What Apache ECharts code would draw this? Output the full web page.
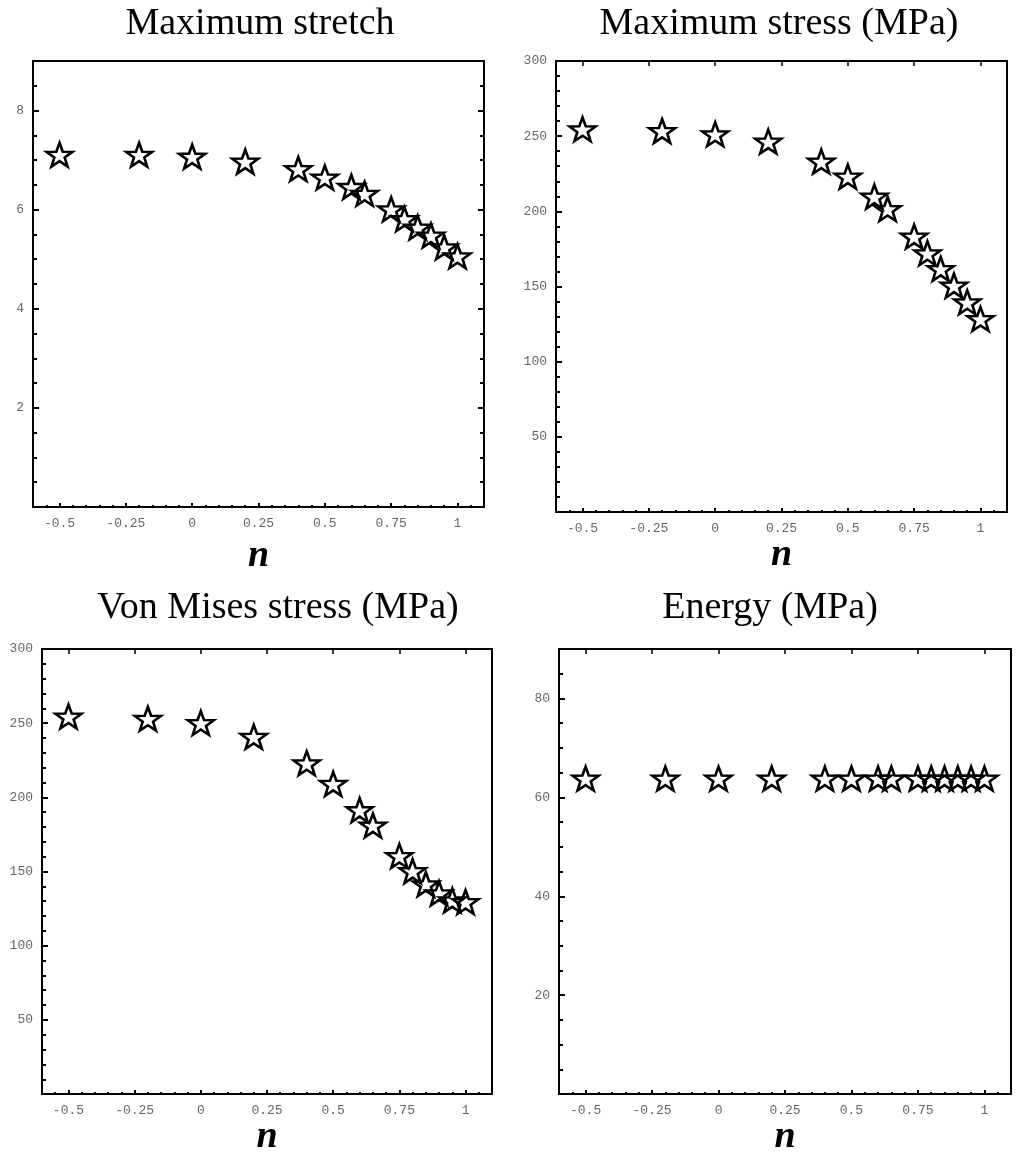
<!DOCTYPE html>
<html>
<head>
<meta charset="utf-8">
<script src="https://cdn.jsdelivr.net/npm/echarts@6/dist/echarts.min.js"></script>
<style>
html,body{margin:0;padding:0;background:#fff;}
#chart{width:1016px;height:1157px;}
</style>
</head>
<body>
<div id="chart"></div>
<script>
// ---- data ----
const nValues = [-0.5, -0.2, 0, 0.2, 0.4, 0.5, 0.6, 0.65, 0.75, 0.8, 0.85, 0.9, 0.95, 1];
const maxStretch = [7.11, 7.11, 7.07, 6.97, 6.82, 6.65, 6.46, 6.32, 6.01, 5.81, 5.64, 5.48, 5.24, 5.06];
const maxStress = [254.6, 253.5, 251.3, 246.4, 233.1, 223.1, 209.8, 201.6, 183.2, 172.1, 161.7, 150.6, 139.5, 128.4];
const vonMises = [254.5, 253, 250.1, 240.8, 223, 209.1, 191.4, 181.1, 160.5, 150.3, 141.5, 135.3, 130.6, 129.5];
const energy = [63.8, 63.8, 63.8, 63.8, 63.8, 63.8, 63.8, 63.8, 63.8, 63.8, 63.8, 63.8, 63.8, 63.8];

const titles = ['Maximum stretch', 'Maximum stress (MPa)', 'Von Mises stress (MPa)', 'Energy (MPa)'];
const xTickLabels = [-0.5, -0.25, 0, 0.25, 0.5, 0.75, 1];
const yTickLabels1 = [2, 4, 6, 8];
const yTickLabels2 = [50, 100, 150, 200, 250, 300];
const yTickLabels3 = [50, 100, 150, 200, 250, 300];
const yTickLabels4 = [20, 40, 60, 80];

// ---- layout / style ----
const panels = [
  {grid:{left:33, top:61, width:451, height:446}, ymax:9, yTicks:yTickLabels1, yMinor:0.5, data:maxStretch, topTicks:false, rightTicks:true, nameGap:30, title:{x:260, y:24}},
  {grid:{left:556, top:61, width:451, height:451}, ymax:300, yTicks:yTickLabels2, yMinor:10, data:maxStress, topTicks:true, rightTicks:false, nameGap:16, title:{x:779, y:24}},
  {grid:{left:42, top:649, width:450, height:450}, ymax:300, yTicks:yTickLabels3, yMinor:10, data:vonMises, topTicks:true, rightTicks:false, nameGap:23, title:{x:278, y:608}},
  {grid:{left:559, top:649, width:452, height:451}, ymax:90, yTicks:yTickLabels4, yMinor:5, data:energy, topTicks:true, rightTicks:false, nameGap:22, title:{x:770, y:608}}
];
const XMIN = -0.6, XMAX = 1.1;
const tickFont = {fontFamily:'Liberation Mono', fontSize:13, color:'#666'};
const lineStyle = {color:'#000', width:2};
const starPath = 'path://M50 0 L61.76 33.82 L97.55 34.55 L69.02 56.18 L79.39 90.45 L50 70 L20.61 90.45 L30.98 56.18 L2.45 34.55 L38.24 33.82 Z';

function range(a, b, step) {
  const out = [];
  const n = Math.round((b - a) / step);
  for (let i = 0; i <= n; i++) out.push(+(a + i * step).toFixed(6));
  return out;
}
const xMinorTicks = range(-0.6, 1.1, 0.05);

const grid = [], xAxis = [], yAxis = [], series = [], graphic = [];
panels.forEach((p, i) => {
  grid.push(Object.assign({containLabel:false}, p.grid));
  const gi = i;
  const xBase = {gridIndex:gi, type:'value', min:XMIN, max:XMAX, splitLine:{show:false}, axisPointer:{show:false}};
  // main bottom
  xAxis.push(Object.assign({}, xBase, {
    position:'bottom',
    axisLine:{show:true, onZero:false, lineStyle:lineStyle},
    axisTick:{show:true, inside:true, length:4, customValues:xTickLabels, lineStyle:{color:'#000', width:2}},
    axisLabel:{show:true, customValues:xTickLabels, margin:10, formatter:v => String(v), ...tickFont},
    name:'n', nameLocation:'middle', nameGap:p.nameGap,
    nameTextStyle:{fontFamily:'Liberation Serif', fontStyle:'italic', fontWeight:'bold', fontSize:38, color:'#000'}
  }));
  // minor bottom
  xAxis.push(Object.assign({}, xBase, {
    position:'bottom',
    axisLine:{show:false, onZero:false},
    axisTick:{show:true, inside:true, length:2, customValues:xMinorTicks, lineStyle:{color:'#000', width:2}},
    axisLabel:{show:false}
  }));
  // top
  xAxis.push(Object.assign({}, xBase, {
    position:'top',
    axisLine:{show:true, onZero:false, lineStyle:lineStyle},
    axisTick:{show:p.topTicks, inside:true, length:5, customValues:xTickLabels, lineStyle:{color:'#000', width:1.5}},
    axisLabel:{show:false}
  }));
  const yMinorTicks = range(0, p.ymax, p.yMinor);
  const yBase = {gridIndex:gi, type:'value', min:0, max:p.ymax, splitLine:{show:false}, axisPointer:{show:false}};
  // main left
  yAxis.push(Object.assign({}, yBase, {
    position:'left',
    axisLine:{show:true, onZero:false, lineStyle:lineStyle},
    axisTick:{show:true, inside:true, length:6, customValues:p.yTicks, lineStyle:{color:'#000', width:2}},
    axisLabel:{show:true, customValues:p.yTicks, margin:9, formatter:v => String(v), ...tickFont}
  }));
  // minor left
  yAxis.push(Object.assign({}, yBase, {
    position:'left',
    axisLine:{show:false, onZero:false},
    axisTick:{show:true, inside:true, length:4, customValues:yMinorTicks, lineStyle:{color:'#000', width:2}},
    axisLabel:{show:false}
  }));
  // right major
  yAxis.push(Object.assign({}, yBase, {
    position:'right',
    axisLine:{show:true, onZero:false, lineStyle:lineStyle},
    axisTick:{show:p.rightTicks, inside:true, length:6, customValues:p.yTicks, lineStyle:{color:'#000', width:2}},
    axisLabel:{show:false}
  }));
  // right minor
  yAxis.push(Object.assign({}, yBase, {
    position:'right',
    axisLine:{show:false, onZero:false},
    axisTick:{show:p.rightTicks, inside:true, length:4, customValues:yMinorTicks, lineStyle:{color:'#000', width:2}},
    axisLabel:{show:false}
  }));
  series.push({
    type:'scatter',
    xAxisIndex:3 * i,
    yAxisIndex:4 * i,
    data:nValues.map((n, k) => [n, p.data[k]]),
    symbol:starPath,
    symbolSize:[26, 25],
    symbolKeepAspect:true,
    itemStyle:{color:'rgba(255,255,255,0)', borderColor:'#000', borderWidth:2.6, opacity:1},
    emphasis:{disabled:true},
    silent:true
  });
  graphic.push({
    type:'text', x:p.title.x, y:p.title.y,
    style:{text:titles[i], fill:'#000', font:'38px "Liberation Serif"', textAlign:'center', textVerticalAlign:'middle'}
  });
});

const chart = echarts.init(document.getElementById('chart'), null, {renderer:'canvas'});
chart.setOption({
  animation:false,
  backgroundColor:'#fff',
  grid, xAxis, yAxis, series, graphic
});
</script>
</body>
</html>
